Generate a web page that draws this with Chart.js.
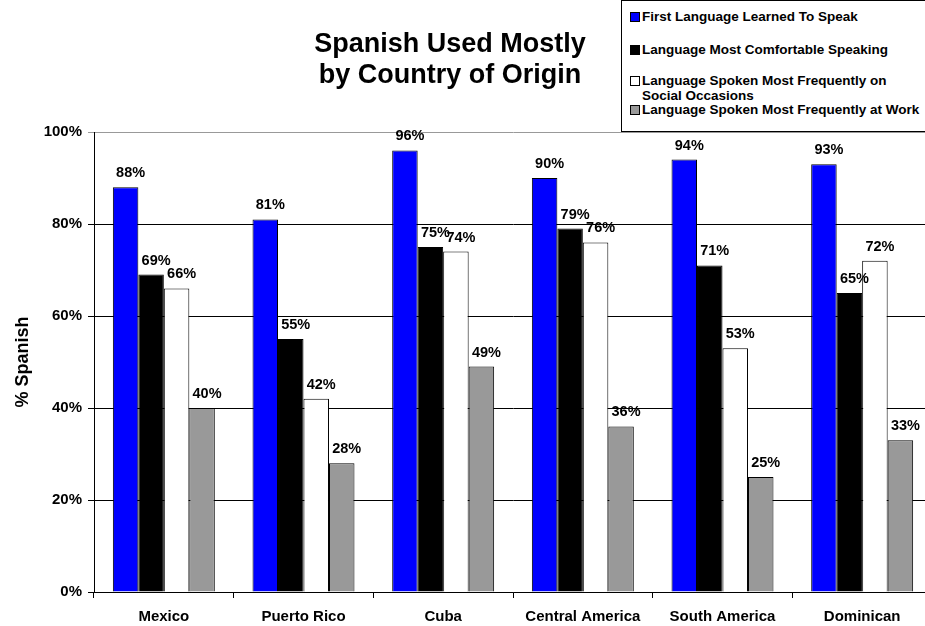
<!DOCTYPE html>
<html><head><meta charset="utf-8">
<script src="https://cdn.jsdelivr.net/npm/chart.js@4"></script>
<style>
html,body{margin:0;padding:0;background:#fff;overflow:hidden;width:925px;height:626px;}
#wrap{position:relative;width:932px;height:626px;}
#title{position:absolute;left:200px;width:500px;top:28px;text-align:center;font:bold 27px "Liberation Sans",Arial,sans-serif;line-height:31px;color:#000;}
#legend{position:absolute;left:621px;top:0;width:310px;height:130px;border:1px solid #000;background:#fff;font:bold 13.5px "Liberation Sans",Arial,sans-serif;color:#000;}
.li{position:absolute;left:8px;line-height:15px;}
.sw{position:absolute;left:0;top:3px;width:8px;height:8px;border:1px solid #000;}
.tx{position:absolute;left:12px;white-space:nowrap;}
</style></head>
<body><div id="wrap">
<canvas id="c" width="932" height="626" style="width:932px;height:626px;"></canvas>
<div id="title">Spanish Used Mostly<br>by Country of Origin</div>
<div id="legend"></div>
</div>
<script>
const categories = ["Mexico","Puerto Rico","Cuba","Central America","South America","Dominican"];
const seriesNames = ["First Language Learned To Speak","Language Most Comfortable Speaking","Language Spoken Most Frequently on Social Occasions","Language Spoken Most Frequently at Work"];
const firstLanguage = [88,81,96,90,94,93];
const mostComfortable = [69,55,75,79,71,65];
const socialOccasions = [66,42,74,76,53,72];
const atWork = [40,28,49,36,25,33];
const yTicks = [0,20,40,60,80,100];
const colors = ["#0000ff","#000000","#ffffff","#999999"];

// HTML legend
const legendLines = [
  {i:0, lines:["First Language Learned To Speak"], top:8},
  {i:1, lines:["Language Most Comfortable Speaking"], top:41},
  {i:2, lines:["Language Spoken Most Frequently on","Social Occasions"], top:72},
  {i:3, lines:["Language Spoken Most Frequently at Work"], top:101}
];
const lg = document.getElementById('legend');
legendLines.forEach(l=>{
  const d=document.createElement('div'); d.className='li'; d.style.top=l.top+'px';
  const s=document.createElement('div'); s.className='sw'; s.style.background=colors[l.i]; d.appendChild(s);
  const t=document.createElement('div'); t.className='tx'; t.innerHTML=l.lines.join('<br>'); d.appendChild(t);
  lg.appendChild(d);
});

const labelPlugin = {
  id:'barLabels',
  afterDatasetsDraw(chart){
    const ctx=chart.ctx; ctx.save();
    ctx.font='bold 14.5px "Liberation Sans", Arial, sans-serif';
    ctx.fillStyle='#000'; ctx.textAlign='center'; ctx.textBaseline='alphabetic';
    chart.data.datasets.forEach((ds,di)=>{
      chart.getDatasetMeta(di).data.forEach((bar,i)=>{
        ctx.fillText(ds.data[i]+'%', bar.x+5, bar.y-10);
      });
    });
    ctx.restore();
  }
};

const FONT='"Liberation Sans", Arial, sans-serif';
const mk=(label,data,c)=>({label,data,backgroundColor:c,borderColor:'#000',borderWidth:1,categoryPercentage:0.73,barPercentage:1});
new Chart(document.getElementById('c'),{
  type:'bar',
  data:{labels:categories,datasets:[
    mk(seriesNames[0],firstLanguage,colors[0]),
    mk(seriesNames[1],mostComfortable,colors[1]),
    mk(seriesNames[2],socialOccasions,colors[2]),
    mk(seriesNames[3],atWork,colors[3])
  ]},
  options:{
    responsive:false,animation:false,
    layout:{padding:{top:132,left:0,right:0,bottom:0}},
    plugins:{legend:{display:false},tooltip:{enabled:false},title:{display:false}},
    scales:{
      x:{
        grid:{drawOnChartArea:false,drawTicks:true,tickLength:6,offset:true,color:'#000'},
        border:{color:'#000',width:1},
        ticks:{color:'#000',font:{family:FONT,size:15,weight:'bold'},padding:10,maxRotation:0,autoSkip:false},
        afterFit(s){s.height=34;}
      },
      y:{
        min:0,max:100,
        afterBuildTicks(s){s.ticks=yTicks.map(v=>({value:v}));},
        grid:{color:(c)=>c.tick&&c.tick.value===100?'#999':'#000',tickLength:6,drawTicks:true},
        border:{color:'#000',width:1},
        ticks:{color:'#000',font:{family:FONT,size:15,weight:'bold'},padding:6,callback:v=>v+'%'},
        title:{display:true,text:'% Spanish',color:'#000',font:{family:FONT,size:18,weight:'bold'},padding:{top:12,bottom:10}},
        afterFit(s){s.width=94;}
      }
    }
  },
  plugins:[labelPlugin]
});
</script>
</body></html>
